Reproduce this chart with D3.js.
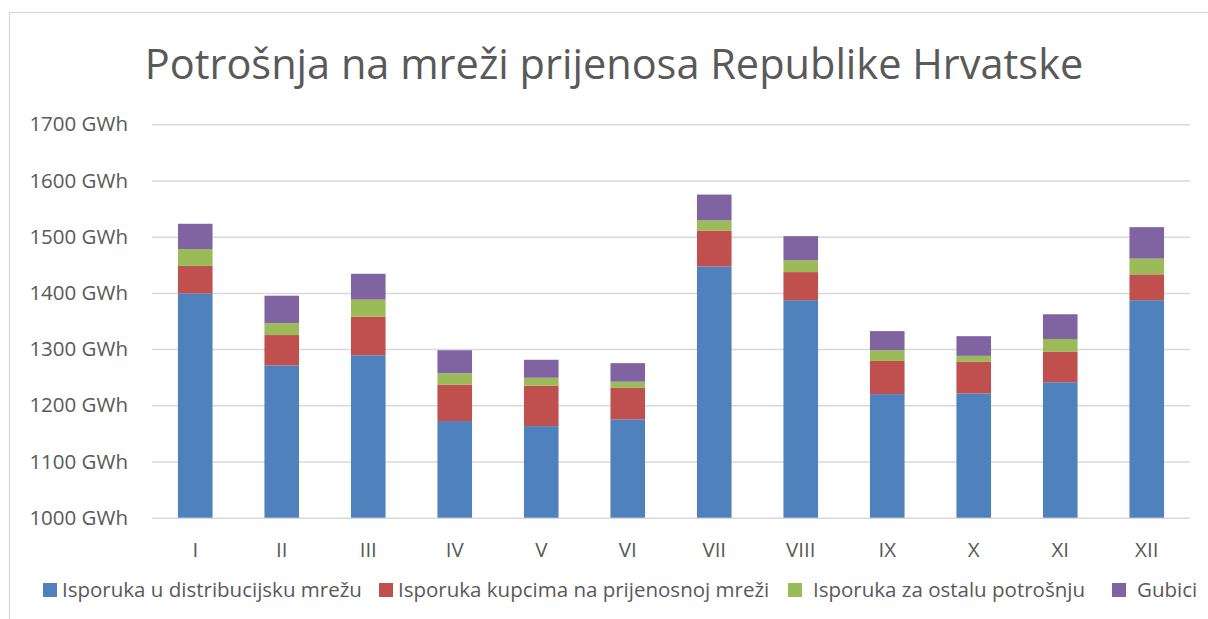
<!DOCTYPE html>
<html>
<head>
<meta charset="utf-8">
<script src="https://cdn.jsdelivr.net/npm/d3@7"></script>
<style>
  body { margin: 0; background: #fff; }
  svg text { font-family: "Open Sans", sans-serif; fill: #595959; }
</style>
</head>
<body>
<script>
// monthly consumption on the Croatian transmission grid (GWh)
var months = ["I", "II", "III", "IV", "V", "VI", "VII", "VIII", "IX", "X", "XI", "XII"];
var seriesNames = ["Isporuka u distribucijsku mrežu", "Isporuka kupcima na prijenosnoj mreži",
                   "Isporuka za ostalu potrošnju", "Gubici"];
var distribucija = [1399, 1271, 1289, 1172, 1163, 1175, 1447, 1387, 1220, 1221, 1241, 1387];
var kupci        = [  49,   54,   69,   65,   72,   56,   64,   50,   59,   57,   54,   46];
var ostalo       = [  30,   21,   30,   20,   14,   11,   18,   21,   19,   10,   23,   28];
var gubici       = [  45,   49,   46,   41,   32,   33,   46,   43,   34,   35,   44,   56];
var yTicks = [1000, 1100, 1200, 1300, 1400, 1500, 1600, 1700];
var colors = ["#4F81BD", "#C0504D", "#9BBB59", "#8064A2"];

function draw() {
    var W = 1208, H = 619;
    var svg = d3.select("body").append("svg")
        .attr("width", W)
        .attr("height", H);

    // chart frame (runs off the right and bottom edge)
    svg.append("rect")
        .attr("x", 9.5).attr("y", 12.5)
        .attr("width", W + 20).attr("height", H + 20)
        .attr("fill", "none")
        .attr("stroke", "#d9d9d9")
        .attr("stroke-width", 1.3);

    svg.append("text")
        .attr("x", 614)
        .attr("y", 79)
        .attr("text-anchor", "middle")
        .style("font-size", "41.5px")
        .text("Potrošnja na mreži prijenosa Republike Hrvatske");

    var x = d3.scaleBand()
        .domain(months)
        .range([152, 1190])
        .paddingInner(0.6)
        .paddingOuter(0.3);

    var y = d3.scaleLinear()
        .domain([1000, 1700])
        .range([517.7, 124.3]);

    // gridlines + y labels
    var yAxis = svg.append("g")
        .attr("transform", "translate(152,0)")
        .call(d3.axisLeft(y)
            .tickValues(yTicks)
            .tickSize(-(1190 - 152))
            .tickPadding(24)
            .tickFormat(function(d){ return d + " GWh"; }));
    yAxis.select(".domain").remove();
    yAxis.selectAll("line").attr("stroke", "#d9d9d9").attr("stroke-width", 1.5);
    yAxis.selectAll("text").style("font-size", "20.5px").attr("fill", "#595959");

    var table = months.map(function(m, i){
        return { month: m, a: distribucija[i], b: kupci[i], c: ostalo[i], d: gubici[i] };
    });
    var stack = d3.stack().keys(["a", "b", "c", "d"]);
    var layers = stack(table);

    svg.selectAll(".layer")
        .data(layers)
        .enter()
        .append("g")
        .attr("class", "layer")
        .attr("fill", function(d, i){ return colors[i]; })
        .selectAll("rect")
        .data(function(d){ return d; })
        .enter()
        .append("rect")
        .attr("x", function(d){ return x(d.data.month); })
        .attr("width", x.bandwidth())
        .attr("y", function(d){ return y(d[1]); })
        .attr("height", function(d){
            // bottom layer starts at the axis minimum
            var lo = Math.max(d[0], 1000);
            return y(lo) - y(d[1]);
        });

    // month labels
    var xAxis = svg.append("g")
        .attr("transform", "translate(0,517.7)")
        .call(d3.axisBottom(x).tickSize(0).tickPadding(25));
    xAxis.select(".domain").remove();
    xAxis.selectAll("text").style("font-size", "20.5px").attr("fill", "#595959");

    // legend
    var legendX = [43, 379, 788, 1112];
    var textGap = [19, 19, 25, 25];
    var legend = svg.selectAll(".legend")
        .data(seriesNames)
        .enter()
        .append("g")
        .attr("class", "legend")
        .attr("transform", function(d, i){ return "translate(" + legendX[i] + ",583)"; });
    legend.append("rect")
        .attr("width", 14).attr("height", 14)
        .attr("fill", function(d, i){ return colors[i]; });
    legend.append("text")
        .attr("x", function(d, i){ return textGap[i]; })
        .attr("y", 7)
        .attr("dy", "0.35em")
        .style("font-size", "20.5px")
        .text(function(d){ return d; });
}

window.onload = draw;
</script>
</body>
</html>
